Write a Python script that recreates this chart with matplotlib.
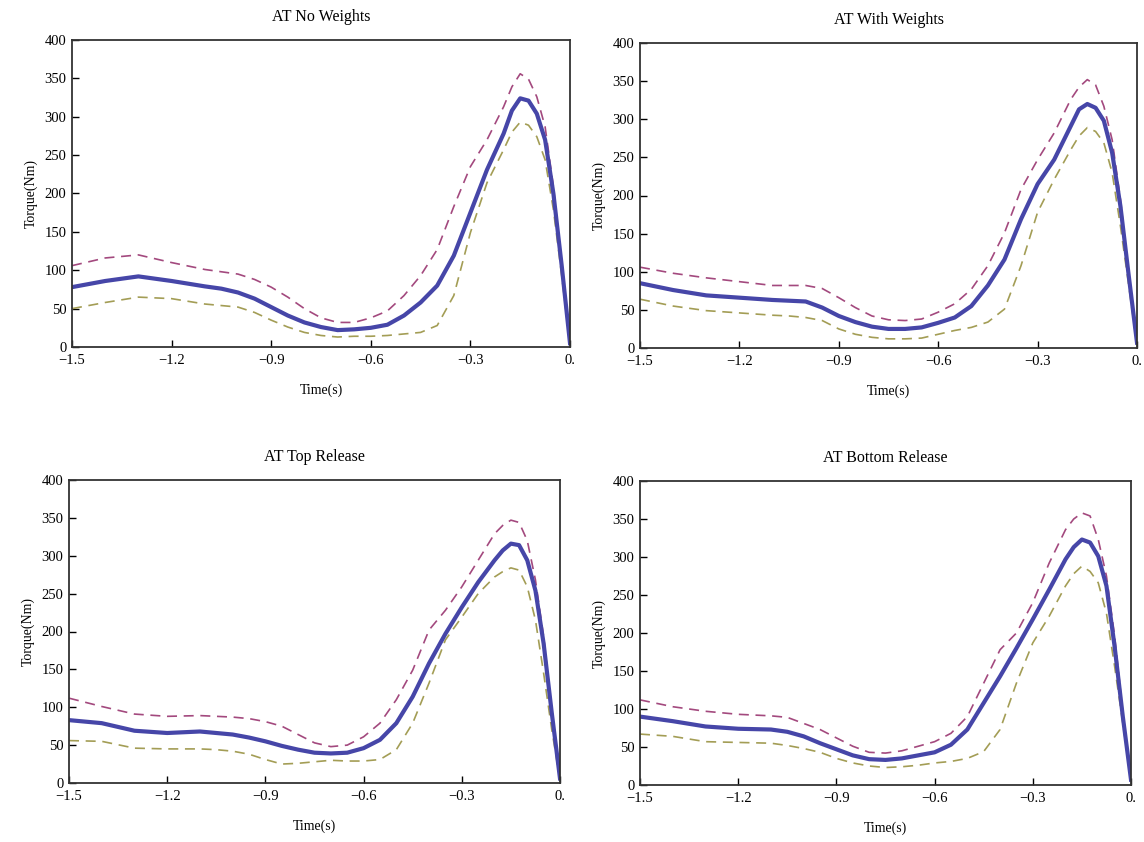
import numpy as np
import matplotlib
matplotlib.use("Agg")
import matplotlib.pyplot as plt

plt.rcParams['font.family'] = ['Liberation Serif', 'DejaVu Serif']

# time points (s)
t = [-1.5, -1.4, -1.3, -1.2, -1.1, -1.05, -1.0, -0.95, -0.9, -0.85, -0.8, -0.75,
     -0.7, -0.65, -0.6, -0.55, -0.5, -0.45, -0.4, -0.35, -0.3, -0.25, -0.2,
     -0.175, -0.15, -0.125, -0.1, -0.075, -0.05, -0.025, 0.0]

titles = ["AT No Weights", "AT With Weights", "AT Top Release", "AT Bottom Release"]

# AT No Weights
nw_mean = [78, 86, 92, 86, 79, 76, 71, 63, 52, 41, 32, 26, 22, 23, 25, 29, 41, 58, 80, 119,
           175, 231, 278, 308, 324, 321, 304, 270, 200, 106, 5]
nw_upper = [106, 116, 120, 110, 101, 98, 95, 88, 78, 65, 50, 38, 32, 32, 38, 47, 67, 93, 127, 183,
            235, 270, 313, 339, 356, 349, 326, 287, 209, 106, 5]
nw_lower = [50, 58, 65, 63, 56, 54, 52, 45, 35, 26, 19, 15, 13, 14, 14, 15, 17, 19, 28, 67,
            149, 214, 257, 280, 293, 289, 274, 244, 179, 93, 3]

# AT With Weights
ww_mean = [85, 76, 69, 66, 63, 62, 61, 53, 42, 34, 28, 25, 25, 27, 33, 40, 55, 82, 116, 169,
           215, 247, 291, 313, 320, 315, 298, 256, 186, 95, 7]
ww_upper = [106, 98, 92, 87, 82, 82, 82, 78, 66, 53, 42, 37, 36, 38, 47, 58, 77, 108, 151, 208,
            247, 282, 326, 342, 352, 345, 317, 273, 195, 95, 5]
ww_lower = [64, 55, 49, 46, 43, 42, 40, 36, 25, 18, 14, 12, 12, 13, 18, 23, 27, 34, 51, 108,
            178, 221, 260, 278, 289, 284, 269, 230, 160, 82, 3]

# AT Top Release
tr_mean = [83, 79, 69, 66, 68, 66, 64, 60, 55, 49, 44, 40, 39, 40, 46, 57, 79, 114, 158, 197,
           232, 265, 294, 307, 316, 314, 294, 254, 184, 92, 6]
tr_upper = [112, 101, 91, 88, 89, 88, 87, 85, 81, 75, 64, 53, 48, 50, 61, 79, 110, 149, 202, 228,
            259, 294, 329, 340, 347, 344, 320, 268, 193, 96, 6]
tr_lower = [56, 55, 46, 45, 45, 44, 42, 38, 31, 25, 26, 28, 30, 29, 29, 31, 44, 79, 132, 189,
            219, 250, 272, 279, 284, 281, 259, 215, 145, 70, 4]

# AT Bottom Release
br_mean = [90, 84, 77, 74, 73, 70, 64, 55, 47, 39, 34, 33, 35, 39, 43, 53, 73, 108, 143, 180,
           218, 257, 297, 313, 323, 319, 301, 262, 182, 90, 7]
br_upper = [112, 103, 97, 93, 91, 89, 81, 73, 62, 51, 43, 42, 45, 51, 57, 68, 90, 134, 178, 200,
            240, 292, 336, 350, 358, 354, 323, 275, 196, 95, 7]
br_lower = [67, 64, 57, 56, 55, 52, 48, 43, 35, 29, 25, 23, 24, 26, 29, 31, 35, 44, 73, 134,
            187, 222, 262, 278, 288, 281, 266, 226, 156, 81, 7]

panels = [(nw_mean, nw_upper, nw_lower), (ww_mean, ww_upper, ww_lower),
          (tr_mean, tr_upper, tr_lower), (br_mean, br_upper, br_lower)]

xticks = [-1.5, -1.2, -0.9, -0.6, -0.3, 0.0]
xticklabels = ["\u22121.5", "\u22121.2", "\u22120.9", "\u22120.6", "\u22120.3", "0."]
yticks = [0, 50, 100, 150, 200, 250, 300, 350, 400]

W, H = 1144, 842
fig = plt.figure(figsize=(W / 100, H / 100), dpi=100)

# axes boxes in pixels: left, top, right, bottom
boxes = [(72, 40, 570, 347), (640, 43, 1137, 348),
         (69, 480, 560, 783), (640, 481, 1131, 785)]

c_mean = "#4646a8"
c_up = "#a3497e"
c_lo = "#a39d55"

for (l, tp, r, b), title, (m, up, lo) in zip(boxes, titles, panels):
    ax = fig.add_axes([l / W, 1 - b / H, (r - l) / W, (b - tp) / H])
    ax.plot(t, up, color=c_up, lw=1.2, dashes=(6, 4))
    ax.plot(t, lo, color=c_lo, lw=1.2, dashes=(6, 4))
    ax.plot(t, m, color=c_mean, lw=3.0, solid_joinstyle="round")
    ax.set_xlim(-1.5, 0)
    ax.set_ylim(0, 400)
    ax.set_xticks(xticks)
    ax.set_xticklabels(xticklabels)
    ax.set_yticks(yticks)
    ax.tick_params(direction="in", length=5, width=1, labelsize=10.5,
                   top=False, right=False)
    ax.tick_params(axis="x", pad=5)
    ax.tick_params(axis="y", pad=4)
    for s in ax.spines.values():
        s.set_linewidth(1.3)
        s.set_color("#333333")
    ax.set_title(title, fontsize=11.5, pad=14)
    ax.set_xlabel("Time(s)", fontsize=10, labelpad=12)
    ax.set_ylabel("Torque(Nm)", fontsize=10, labelpad=5)

fig.savefig("out.png", dpi=100)
